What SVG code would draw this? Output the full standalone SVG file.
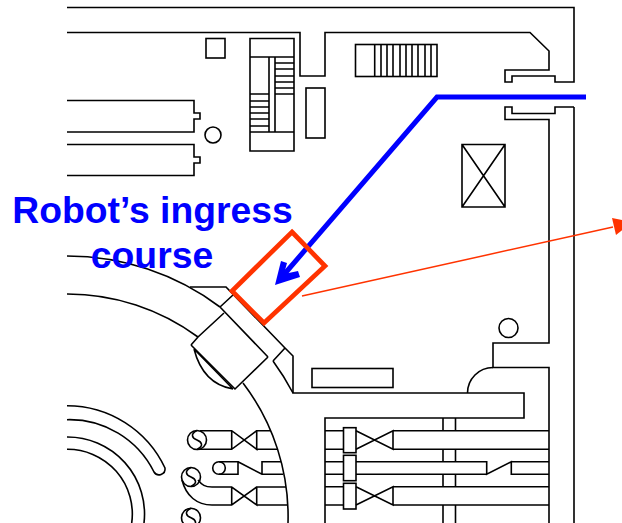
<svg xmlns="http://www.w3.org/2000/svg" width="622" height="523" viewBox="0 0 622 523">
<style>
.l{fill:none;stroke:#000;stroke-width:1.6}
.t{font-family:"Liberation Sans",Arial,sans-serif;font-weight:700;font-size:37.300px;fill:#0000ff;text-anchor:middle}
</style>
<defs>
<path id="s" d="M0-9.500C-7-6-5-2 0 0S7 6 0 9.500" class="l"/>
</defs>
<rect width="622" height="523" fill="#fff"/>
<g id="walls" class="l">
<path d="M67 7.500H574V82H555V76H512V82H505V70H549V51L530 32.500H325V76H300V32.500H67"/>
<path d="M574 107H555V113.500H512V107H505V119.500H549V343H493V367.500H549V523M574 107V523"/>
<path d="M493 367.500A25.500 25.500 0 0 0 467.500 393"/>
<path d="M190 287H226L285 348L293 356V393H524V418H325V523"/>
</g>
<g id="arcs" class="l">
<path d="M67 256A255 255 0 0 1 220 307M273 361A255 255 0 0 1 293 393"/>
<path d="M67 294A220 220 0 0 1 198 337M243 383A220 220 0 0 1 288 523"/>
<path d="M67 405.700A108.300 108.300 0 0 1 165 468A6 6 0 0 1 154 472A94.300 94.300 0 0 0 67 419.700"/>
<path d="M67 437A77 77 0 0 1 144 523M67 449.300A64.700 64.700 0 0 1 131.700 523"/>
</g>
<g id="equipment" class="l">
<rect x="206" y="38.500" width="19" height="19.500"/>
<path d="M250 38.500H294V151H250ZM250 57H294M250 132H294M269 57V132M275 57V132"/>
<path d="M275 63H294M275 69H294M275 76H294M275 82H294M275 88H294M275 94H294M250 94H269M250 101H269M250 107H269M250 113H269M250 119H269M250 126H269"/>
<rect x="306" y="88" width="19" height="50"/>
<path d="M67 100.500H194V113H200V119H194V132H67M67 144.500H194V157H200V163H194V175.500H67"/>
<circle cx="213" cy="135" r="8"/>
<rect x="355.500" y="44.500" width="81.500" height="32"/>
<path d="M374.700 44.500V76.500M381 44.500V76.500M387 44.500V76.500M393 44.500V76.500M400 44.500V76.500M406 44.500V76.500M412 44.500V76.500M418 44.500V76.500M425 44.500V76.500M431 44.500V76.500"/>
<path d="M462 144.500H505V207H462ZM462 144.500L505 207M505 144.500L462 207"/>
<circle cx="508.500" cy="328" r="9.500"/>
<rect x="312" y="368.500" width="81" height="19"/>
</g>
<g id="port" class="l">
<path d="M220 307L233 295M220 307L268 357M273 361L285 348"/>
<path d="M191 345L198 337L224 313M191 345L235 389L268 357"/>
<path d="M194 349L233 389M194 349Q203 384 233 389"/>
</g>
<g id="valves" class="l">
<path d="M325 430.700H343.500M325 449.300H343.500M325 461.700H343.500M325 474.300H343.500M325 486.700H343.500M325 505H343.500"/>
<rect x="343.500" y="427.700" width="12.500" height="25"/>
<rect x="343.500" y="455.300" width="12.500" height="25.400"/>
<rect x="343.500" y="483.300" width="12.500" height="25.700"/>
<path d="M356 430.700L393 449.300V430.700L356 449.300M393 430.700H549M393 449.300H549"/>
<path d="M356 461.700H486.700V474.300L511.300 461.700V474.300H549M356 474.300H486.700M511.300 461.700H549"/>
<path d="M356 486.700L393 505V486.700L356 505M393 486.700H549M393 505H549"/>
<path d="M443 418V430.700M455.500 418V430.700M443 449.300V461.700M455.500 449.300V461.700M443 474.300V486.700M455.500 474.300V486.700M443 505V523M455.500 505V523"/>
<circle cx="197" cy="440" r="9.500"/><use href="#s" x="197" y="440"/>
<path d="M200 430.700H231.700L256.700 449.300V430.700H270.700M200 449.300H231.700L256.700 430.700M256.700 449.300H277M231.700 430.700V449.300"/>
<circle cx="219" cy="468" r="6.300"/>
<path d="M219 461.700H238V474.300H219M238 461.700L262 474.300H283M262 474.300V461.700H281"/>
<circle cx="191" cy="477" r="9.500"/><use href="#s" x="191" y="477"/>
<path d="M198 480C202 485 205 487 212 487H231.700L256.700 505V487H286M182 480C186 496 197 505 212 505H231.700L256.700 487M256.700 505H288M231.700 487V505"/>
<circle cx="191" cy="517.700" r="9.500"/><use href="#s" x="191" y="517.700"/>
</g>
<g id="connectors">
<path d="M586 97H437L281 278" fill="none" stroke="#0000ff" stroke-width="5"/>
<path d="M275 285L281 261L287 263L284 274L298 271L300 277Z" fill="#0000ff"/>
<path d="M302 296L613 227" stroke="#ff3300" stroke-width="1.500" fill="none"/>
<path d="M632 222L612 218L616 235Z" fill="#ff3300"/>
<path d="M292 232L325 266L264 323L232 291Z" fill="none" stroke="#ff3300" stroke-width="4.700"/>
</g>
<g id="label">
<text class="t" x="152.500" y="223">Robot’s ingress</text>
<text class="t" x="152" y="268">course</text>
</g>
</svg>
